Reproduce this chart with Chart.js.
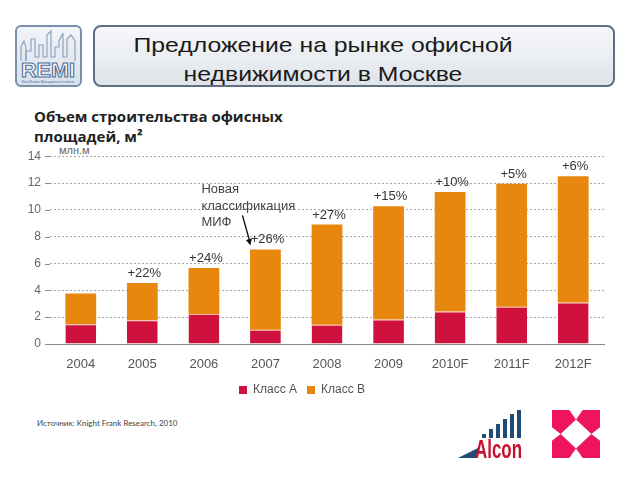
<!DOCTYPE html>
<html><head><meta charset="utf-8">
<script src="https://cdn.jsdelivr.net/npm/chart.js@4.4.1/dist/chart.umd.min.js"></script>
<style>
html,body{margin:0;padding:0;background:#fff;width:640px;height:480px;overflow:hidden;position:relative;font-family:"Liberation Sans",Arial,sans-serif;}
.abs{position:absolute;}
#remi{left:15px;top:25px;width:63px;height:58px;border:2px solid #7a8fab;border-radius:6px;background:linear-gradient(#f2f5f9,#d9e1ec);}
#tbox{left:93px;top:25px;width:518px;height:58px;border:2px solid #5e6e84;border-radius:8px;background:linear-gradient(#f6f7f9,#dfe4ea);}
.t{left:0;width:646px;text-align:center;font-size:21px;line-height:21px;color:#1a1a1a;transform:scaleX(1.18);transform-origin:323px 0;white-space:nowrap;}
#sub{left:34px;top:106px;font-family:"Open Sans",sans-serif;font-weight:bold;font-size:15px;line-height:20px;color:#222;}
#unit{left:59px;top:144px;font-size:11px;color:#666;line-height:13px;}
#src{left:37px;top:418px;font-family:Lato,"Open Sans",sans-serif;font-size:8px;color:#444;line-height:10px;}
#wrap{left:0;top:140px;width:640px;height:270px;}
</style></head>
<body>
<div id="remi" class="abs">
<svg width="63" height="58" viewBox="0 0 63 58">
<polyline points="4,34 4,20 7,14 9,20 9,34" fill="none" stroke="#8fa2bc" stroke-width="1.2"/>
<polyline points="9,34 9,24 14,24 14,12 18,12 18,30 22,30 22,18 26,18 26,30 30,30 30,8 34,4 34,30 38,30 38,20 42,20 42,14 46,6 46,30 50,30 50,12 54,8 58,14 58,34" fill="none" stroke="#8fa2bc" stroke-width="1.2"/>
<text x="31" y="50" text-anchor="middle" font-family="Liberation Sans" font-weight="bold" font-size="21" fill="#ffffff" stroke="#4f6d96" stroke-width="1.1" textLength="54" lengthAdjust="spacingAndGlyphs">REMI</text>
<text x="31" y="56" text-anchor="middle" font-family="Liberation Sans" font-size="3.5" fill="#4f6d96">Real Estate Management Institute</text>
</svg>
</div>
<div id="tbox" class="abs"></div>
<div class="abs t" style="top:34px;">Предложение на рынке офисной</div>
<div class="abs t" style="top:63px;">недвижимости в Москве</div>
<div id="sub" class="abs">Объем строительства офисных<br>площадей, м²</div>
<div id="unit" class="abs">млн.м</div>
<div id="wrap" class="abs"><canvas id="c" width="640" height="270"></canvas></div>
<div id="src" class="abs">Источник: Knight Frank Research, 2010</div>
<svg class="abs" style="left:456px;top:406px" width="70" height="56" viewBox="0 0 70 56">
<polygon points="2,52 22,42 22,52" fill="#1f4b75"/>
<rect x="26" y="28" width="4" height="4" fill="#1f4b75"/>
<rect x="33" y="23" width="4" height="9" fill="#1f4b75"/>
<rect x="40" y="18" width="4" height="14" fill="#1f4b75"/>
<rect x="47" y="13" width="4" height="19" fill="#1f4b75"/>
<rect x="54" y="8" width="4" height="24" fill="#1f4b75"/>
<rect x="61" y="4" width="4" height="28" fill="#1f4b75"/>
<text x="19" y="52" font-family="Liberation Sans Narrow,Liberation Sans" font-weight="bold" font-size="25" fill="#c8102e" textLength="47" lengthAdjust="spacingAndGlyphs">Alcon</text>
</svg>
<svg class="abs" style="left:551px;top:410px" width="50" height="48" viewBox="0 0 100 100">
<polygon points="0,0 36,0 50,20 18,50 0,36" fill="#ef145f"/>
<polygon points="64,0 100,0 100,36 82,50 50,20" fill="#ef145f"/>
<polygon points="0,64 18,50 50,80 36,100 0,100" fill="#ef145f"/>
<polygon points="82,50 100,64 100,100 64,100 50,80" fill="#ef145f"/>
</svg>
<script>
const years = ['2004','2005','2006','2007','2008','2009','2010F','2011F','2012F'];
const classA = [1.48, 1.77, 2.23, 1.07, 1.43, 1.82, 2.43, 2.77, 3.09];
const classB = [2.29, 2.78, 3.43, 5.98, 7.47, 8.44, 8.91, 9.17, 9.41];
const growth = ['', '+22%', '+24%', '+26%', '+27%', '+15%', '+10%', '+5%', '+6%'];
const seriesNames = ['Класс А', 'Класс В'];
const noteLines = ['Новая', 'классификация', 'МИФ'];
const noteIndex = 3;

const labelsPlugin = {
  id: 'growthLabels',
  beforeDatasetsDraw(chart) {
    // extend dotted grid lines slightly left of the plot area, as in the reference
    const ctx = chart.ctx, ys = chart.scales.y, area = chart.chartArea;
    ctx.save();
    ctx.strokeStyle = '#a8a8a8'; ctx.lineWidth = 1; ctx.setLineDash([2, 2]);
    ys.ticks.forEach(t => {
      const py = Math.round(ys.getPixelForValue(t.value)) + 0.5;
      if (t.value === 0) { ctx.setLineDash([]); ctx.strokeStyle = '#8a8a8a'; }
      ctx.beginPath(); ctx.moveTo(area.left - 5, py); ctx.lineTo(area.left, py); ctx.stroke();
    });
    ctx.restore();
  },
  afterDatasetsDraw(chart) {
    const ctx = chart.ctx, xs = chart.scales.x, ys = chart.scales.y;
    ctx.save();
    ctx.fillStyle = '#333';
    ctx.font = '13px "Liberation Sans", Arial, sans-serif';
    ctx.textAlign = 'center';
    ctx.textBaseline = 'alphabetic';
    years.forEach((y, i) => {
      if (!growth[i]) return;
      const x = xs.getPixelForValue(i);
      const py = ys.getPixelForValue(classA[i] + classB[i]);
      ctx.fillText(growth[i], x + 2, py - 6);
    });
    const nx = xs.getPixelForValue(noteIndex);
    const ny = ys.getPixelForValue(classA[noteIndex] + classB[noteIndex]);
    ctx.textAlign = 'left';
    ctx.textBaseline = 'middle';
    ctx.fillStyle = '#444';
    noteLines.forEach((t, k) => ctx.fillText(t, nx - 64, ny - 60 + k * 16.5));
    const x1 = nx - 23, y1 = ny - 34, x2 = nx - 15, y2 = ny - 4;
    ctx.strokeStyle = '#111'; ctx.fillStyle = '#111'; ctx.lineWidth = 1.4;
    ctx.beginPath(); ctx.moveTo(x1, y1); ctx.lineTo(x2 - 1, y2 - 5); ctx.stroke();
    const a = Math.atan2(y2 - y1, x2 - x1);
    ctx.beginPath();
    ctx.moveTo(x2, y2);
    ctx.lineTo(x2 - 7 * Math.cos(a - 0.45), y2 - 7 * Math.sin(a - 0.45));
    ctx.lineTo(x2 - 7 * Math.cos(a + 0.45), y2 - 7 * Math.sin(a + 0.45));
    ctx.closePath(); ctx.fill();
    ctx.restore();
  }
};

new Chart(document.getElementById('c'), {
  type: 'bar',
  data: {
    labels: years,
    datasets: [
      { label: seriesNames[0], data: classA, backgroundColor: '#cf123d',
        borderColor: '#f6b9a6', borderWidth: {top: 1, left: 0, right: 0, bottom: 0}, borderSkipped: false },
      { label: seriesNames[1], data: classB, backgroundColor: '#e8870d', borderWidth: 0 }
    ]
  },
  options: {
    responsive: false,
    animation: false,
    events: [],
    layout: { padding: { top: 12, right: 36, bottom: 4, left: 0 } },
    datasets: { bar: { categoryPercentage: 1, barPercentage: 0.5 } },
    scales: {
      x: {
        stacked: true,
        grid: { display: false, drawTicks: false },
        border: { display: true, color: '#8a8a8a', width: 1 },
        ticks: { color: '#555', padding: 13, font: { family: '"Liberation Sans", Arial, sans-serif', size: 13 } },
        afterFit(s) { s.height = 30; }
      },
      y: {
        stacked: true, min: 0, max: 14,
        grid: { color: (c) => c.tick.value === 0 ? 'rgba(0,0,0,0)' : '#a8a8a8', drawTicks: false, lineWidth: 1 },
        border: { display: false, dash: [2, 2] },
        ticks: { stepSize: 2, color: '#666', padding: 9, font: { family: '"Liberation Sans", Arial, sans-serif', size: 12 } },
        afterFit(s) { s.width = 50; }
      }
    },
    plugins: {
      tooltip: { enabled: false },
      legend: {
        position: 'bottom',
        labels: {
          boxWidth: 8, boxHeight: 8, padding: 10, color: '#555',
          font: { family: '"Liberation Sans", Arial, sans-serif', size: 12 },
          generateLabels(chart) {
            return chart.data.datasets.map((d, i) => ({
              text: d.label, fillStyle: d.backgroundColor, strokeStyle: d.backgroundColor,
              lineWidth: 0, hidden: false, datasetIndex: i, fontColor: '#555'
            }));
          }
        }
      }
    }
  },
  plugins: [labelsPlugin]
});
</script>
</body></html>
